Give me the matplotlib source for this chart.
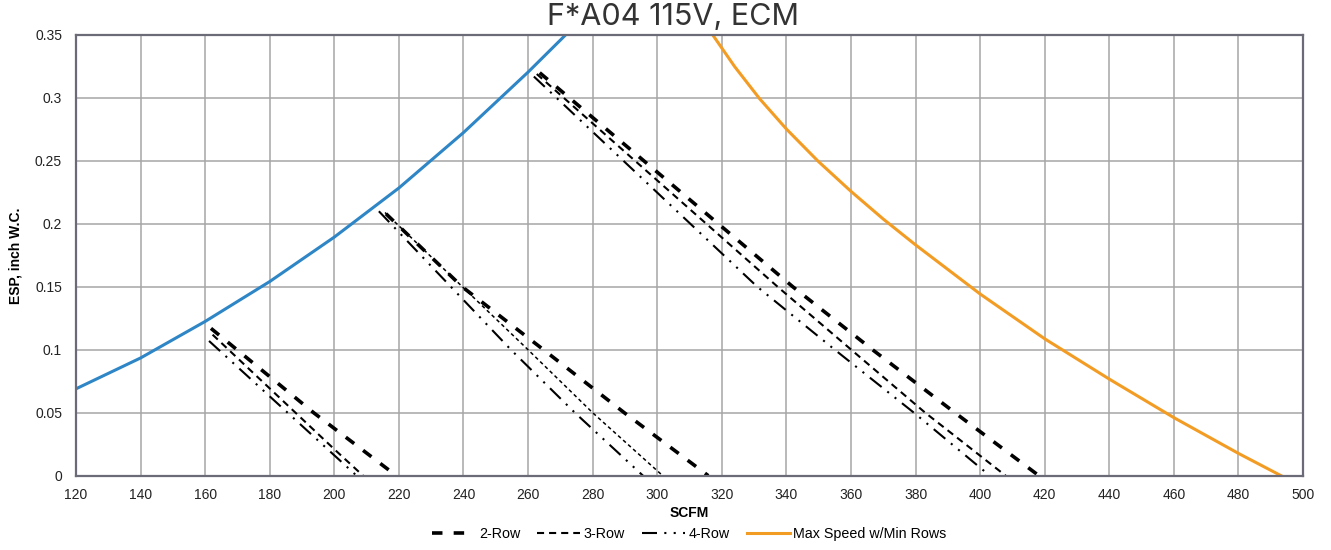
import numpy as np
import matplotlib.pyplot as plt

# SCFM vs ESP (inch W.C.)
# Minimum speed / low limit (blue)
blue_x = [120, 140, 160, 180, 200, 220, 240, 260, 271.6]
blue_y = [0.069, 0.0935, 0.1225, 0.1542, 0.1895, 0.2285, 0.2725, 0.3205, 0.35]

# Max speed w/min rows (orange)
max_x = [317.2, 324, 331.7, 340, 349.8, 360, 370, 380, 400, 420, 440, 460, 480, 493.2]
max_y = [0.35, 0.3248, 0.2994, 0.2753, 0.2498, 0.2258, 0.2038, 0.1833, 0.1443, 0.1087, 0.0767, 0.0461, 0.0177, 0.0]

# 2-Row, three speed taps
row2_low_x = [161.8, 193.6, 219.2]
row2_low_y = [0.117, 0.05, 0.0]
row2_mid_x = [216.0, 239.6, 264.8, 289.8, 315.8]
row2_mid_y = [0.208, 0.15, 0.10, 0.05, 0.0]
row2_high_x = [263.6, 342.0, 366.7, 392.2, 418.2]
row2_high_y = [0.320, 0.15, 0.10, 0.05, 0.0]

# 3-Row
row3_low_x = [162.3, 200.0, 208.9]
row3_low_y = [0.112, 0.021, 0.0]
row3_mid_x = [215.7, 260.0, 280.0, 301.7]
row3_mid_y = [0.209, 0.10, 0.05, 0.0]
row3_high_x = [262.7, 337.3, 360.1, 383.0, 407.9]
row3_high_y = [0.319, 0.15, 0.10, 0.05, 0.0]

# 4-Row
row4_low_x = [161.2, 206.9]
row4_low_y = [0.107, 0.0]
row4_mid_x = [213.8, 254.7, 274.5, 295.6]
row4_mid_y = [0.21, 0.10, 0.05, 0.0]
row4_high_x = [261.8, 331.0, 355.0, 379.5, 403.0]
row4_high_y = [0.317, 0.15, 0.10, 0.05, 0.0]

plt.rcParams['font.family'] = ['Liberation Sans', 'DejaVu Sans']

fig = plt.figure(figsize=(13.31, 5.5), dpi=100)
ax = fig.add_axes([0.0571, 0.1351, 0.9219, 0.8013])

ax.plot(blue_x, blue_y, color='#2e86c6', lw=2.2)
ax.plot(max_x, max_y, color='#f39c24', lw=2.2, label='Max Speed w/Min Rows')

style2 = dict(color='black', lw=2.6, dashes=(2.9, 3.1), dash_capstyle='butt')
style3 = dict(color='black', lw=1.5, dashes=(3.4, 2.4), dash_capstyle='butt')
style3_fine = dict(color='black', lw=1.1, dashes=(2.4, 2.0), dash_capstyle='butt')
style4 = dict(color='black', lw=1.5, dashes=(7.2, 3.5, 1.0, 3.5, 1.0, 3.5), dash_capstyle='butt')

ax.plot(row2_low_x, row2_low_y, label='2-Row', **style2)
ax.plot(row2_mid_x, row2_mid_y, **style2)
ax.plot(row2_high_x, row2_high_y, **style2)
ax.plot(row3_low_x, row3_low_y, label='3-Row', **style3)
ax.plot(row3_mid_x, row3_mid_y, **style3_fine)
ax.plot(row3_high_x, row3_high_y, **style3)
ax.plot(row4_low_x, row4_low_y, label='4-Row', **style4)
ax.plot(row4_mid_x, row4_mid_y, **style4)
ax.plot(row4_high_x, row4_high_y, **style4)

ax.set_xlim(120, 500)
ax.set_ylim(0, 0.35)
ax.set_xticks(np.arange(120, 501, 20))
ax.set_yticks(np.arange(0, 0.351, 0.05))
ax.set_yticklabels(['0', '0.05', '0.1', '0.15', '0.2', '0.25', '0.3', '0.35'])
ax.tick_params(length=0, labelsize=10, colors='#222222')
ax.tick_params(axis='x', pad=8.5)
ax.tick_params(axis='y', pad=10)
ax.grid(True, color='#a6a6a6', lw=1.1)
ax.set_axisbelow(True)
for s in ax.spines.values():
    s.set_color('#6b6b78')
    s.set_linewidth(1.6)

ax.set_xlabel('SCFM', fontsize=10, fontweight='bold', labelpad=3)
ax.set_ylabel('ESP, inch W.C.', fontsize=10, fontweight='bold', labelpad=9)

fig.text(0.5053, 0.9545, 'F*A04 115V, ECM', ha='center', va='baseline',
         fontsize=22, color='#333333', family=['Inter', 'DejaVu Sans'])

handles, labels = ax.get_legend_handles_labels()
order = [labels.index(l) for l in ['2-Row', '3-Row', '4-Row', 'Max Speed w/Min Rows']]
ax.legend([handles[i] for i in order], [labels[i] for i in order],
          loc='upper center', bbox_to_anchor=(0.5, -0.088), ncol=4, frameon=False,
          fontsize=10.3, handlelength=3.0, handletextpad=0.25, columnspacing=1.2)

fig.savefig('out.png', dpi=100)
